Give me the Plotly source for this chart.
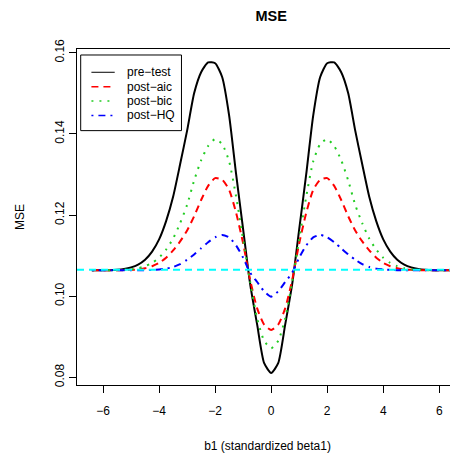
import plotly.graph_objects as go

# ---- data ----
b1 = [-6.4, -6.25, -6.0, -5.75, -5.5, -5.25, -5.0, -4.75, -4.5, -4.25, -4.0, -3.75, -3.5,
      -3.25, -3.0, -2.75, -2.5, -2.25, -2.0, -1.75, -1.5, -1.25, -1.0, -0.75, -0.5, -0.25,
      0.0, 0.25, 0.5, 0.75, 1.0, 1.25, 1.5, 1.75, 2.0, 2.25, 2.5, 2.75, 3.0, 3.25, 3.5,
      3.75, 4.0, 4.25, 4.5, 4.75, 5.0, 5.25, 5.5, 5.75, 6.0, 6.25, 6.4]

mse_pretest = [0.1064, 0.1064, 0.1064, 0.1064, 0.1065, 0.1067, 0.1071, 0.1078, 0.1090, 0.1110,
               0.1140, 0.1185, 0.1245, 0.1325, 0.1408, 0.1500, 0.1552, 0.1576, 0.1574, 0.1540,
               0.1445, 0.1300, 0.1165, 0.1030, 0.0930, 0.0835,
               0.0811,
               0.0835, 0.0930, 0.1030, 0.1165, 0.1300, 0.1445, 0.1540, 0.1574, 0.1576, 0.1552,
               0.1500, 0.1408, 0.1325, 0.1245, 0.1185, 0.1140, 0.1110, 0.1090, 0.1078, 0.1071,
               0.1067, 0.1065, 0.1064, 0.1064, 0.1064, 0.1064]

mse_aic = [0.1064, 0.1064, 0.1064, 0.1064, 0.1064, 0.1064, 0.1065, 0.1066, 0.1069, 0.1074,
           0.1082, 0.1095, 0.1113, 0.1135, 0.1162, 0.1197, 0.1237, 0.1272, 0.1291, 0.1287,
           0.1262, 0.1205, 0.1130, 0.1040, 0.0970, 0.0930,
           0.0917,
           0.0930, 0.0970, 0.1040, 0.1130, 0.1205, 0.1262, 0.1287, 0.1291, 0.1272, 0.1237,
           0.1197, 0.1162, 0.1135, 0.1113, 0.1095, 0.1082, 0.1074, 0.1069, 0.1066, 0.1065,
           0.1064, 0.1064, 0.1064, 0.1064, 0.1064, 0.1064]

mse_bic = [0.1064, 0.1064, 0.1064, 0.1064, 0.1064, 0.1065, 0.1066, 0.1069, 0.1074, 0.1082,
           0.1095, 0.1115, 0.1142, 0.1180, 0.1225, 0.1285, 0.1335, 0.1370, 0.1387, 0.1375,
           0.1332, 0.1245, 0.1140, 0.1035, 0.0945, 0.0890,
           0.0872,
           0.0890, 0.0945, 0.1035, 0.1140, 0.1245, 0.1332, 0.1375, 0.1387, 0.1370, 0.1335,
           0.1285, 0.1225, 0.1180, 0.1142, 0.1115, 0.1095, 0.1082, 0.1074, 0.1069, 0.1066,
           0.1065, 0.1064, 0.1064, 0.1064, 0.1064, 0.1064]

mse_hq = [0.1064, 0.1064, 0.1064, 0.1064, 0.1064, 0.1064, 0.1064, 0.1064, 0.1064, 0.1065,
          0.1066, 0.1068, 0.1072, 0.1079, 0.1090, 0.1103, 0.1118, 0.1133, 0.1145, 0.1151,
          0.1145, 0.1125, 0.1095, 0.1058, 0.1035, 0.1012,
          0.0999,
          0.1012, 0.1035, 0.1058, 0.1095, 0.1125, 0.1145, 0.1151, 0.1145, 0.1133, 0.1118,
          0.1103, 0.1090, 0.1079, 0.1072, 0.1068, 0.1066, 0.1065, 0.1064, 0.1064, 0.1064,
          0.1064, 0.1064, 0.1064, 0.1064, 0.1064, 0.1064]

ref_mse = 0.1065

series_names = ["pre\u2212test", "post\u2212aic", "post\u2212bic", "post\u2212HQ"]
x_ticks = [-6, -4, -2, 0, 2, 4, 6]
y_ticks = [0.08, 0.10, 0.12, 0.14, 0.16]
y_ticklabels = ["0.08", "0.10", "0.12", "0.14", "0.16"]

# ---- styles ----
FONT = "Liberation Sans, Arial, Helvetica, sans-serif"
styles = [
    dict(color="black", width=2, dash="solid"),
    dict(color="red", width=2, dash="7px,5px"),
    dict(color="#22cc22", width=2, dash="2px,6px"),
    dict(color="blue", width=2, dash="2px,5px,7px,5px"),
]
series = [mse_pretest, mse_aic, mse_bic, mse_hq]

# page body has a default 8px margin; the figure is sized/offset to compensate
OFF = 8
W, H = 458 - OFF, 459 - OFF
L, T = 77.3 - OFF, 49.0 - OFF
B = H - (385.3 - OFF)
PW = W - L
PH = H - T - B

fig = go.Figure()
for name, ys, st in zip(series_names, series, styles):
    fig.add_trace(go.Scatter(x=b1, y=ys, mode="lines", name=name,
                             line=dict(color=st["color"], width=st["width"], dash=st["dash"],
                                       shape="spline", smoothing=0.6),
                             showlegend=False))

fig.add_hline(y=ref_mse, line=dict(color="cyan", width=2, dash="7px,5px"))

# ---- manual R-style legend (page pixel positions -> paper coords) ----
def px_x(p):
    return (p - OFF - L) / PW

def px_y(p):
    return 1 - (p - OFF - T) / PH

fig.add_shape(type="rect", xref="paper", yref="paper",
              x0=px_x(81), x1=px_x(181.7), y0=px_y(130.7), y1=px_y(55),
              line=dict(color="black", width=1), fillcolor="white", layer="above")
rows = [72.3, 86.7, 101.0, 115.5]
for name, st, ry in zip(series_names, styles, rows):
    fig.add_shape(type="line", xref="paper", yref="paper",
                  x0=px_x(91.7), x1=px_x(115), y0=px_y(ry), y1=px_y(ry),
                  line=dict(color=st["color"], width=1 if st["dash"] == "solid" else 1.5,
                            dash=st["dash"]),
                  layer="above")
    fig.add_annotation(xref="paper", yref="paper", x=px_x(125), y=px_y(ry),
                       text=name, showarrow=False, xanchor="left", yanchor="middle",
                       font=dict(family=FONT, size=12, color="black"))

fig.update_layout(
    width=W, height=H,
    margin=dict(l=L, r=0, t=T, b=B, pad=0, autoexpand=False),
    paper_bgcolor="white", plot_bgcolor="white",
    font=dict(family=FONT, size=12, color="black"),
    title=dict(text="<b>MSE</b>", x=px_x(271.3), xref="paper", xanchor="center",
               y=1 - (15.5 - OFF) / H, yref="container", yanchor="middle",
               font=dict(family=FONT, size=14.5, color="black")),
    xaxis=dict(range=[-6.93, 6.668], tickvals=x_ticks, ticks="outside", ticklen=7,
               tickwidth=1, tickcolor="black", showline=True, linecolor="black",
               linewidth=1, mirror=True, showgrid=False, zeroline=False, automargin=False,
               ticklabelstandoff=8,
               tickfont=dict(family=FONT, size=12),
               title=dict(text="b1 (standardized beta1)", standoff=24,
                          font=dict(family=FONT, size=12))),
    yaxis=dict(range=[0.07813, 0.16091], tickvals=y_ticks, ticktext=y_ticklabels,
               ticks="outside", ticklen=7, tickwidth=1, tickcolor="black",
               showline=True, linecolor="black", linewidth=1, mirror=False,
               showgrid=False, zeroline=False, tickangle=-90, automargin=False,
               tickfont=dict(family=FONT, size=12),
               title=dict(text="MSE", standoff=26, font=dict(family=FONT, size=12))),
)

fig.write_html("out.html")
